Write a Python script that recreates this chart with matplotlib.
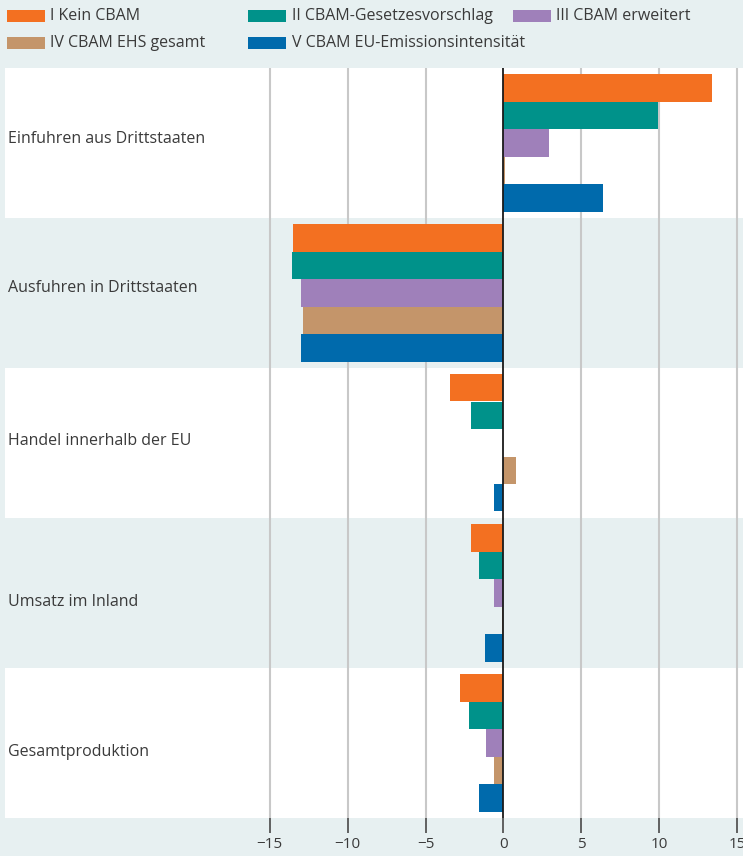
import matplotlib
matplotlib.use('Agg')
import matplotlib.pyplot as plt
from matplotlib.patches import Rectangle
import numpy as np

plt.rcParams['font.family'] = ['Open Sans', 'DejaVu Sans']

categories = ['Einfuhren aus Drittstaaten', 'Ausfuhren in Drittstaaten',
              'Handel innerhalb der EU', 'Umsatz im Inland', 'Gesamtproduktion']
series = ['I Kein CBAM', 'II CBAM-Gesetzesvorschlag', 'III CBAM erweitert',
          'IV CBAM EHS gesamt', 'V CBAM EU-Emissionsintensität']
colors = ['#f37021', '#00928a', '#9f80ba', '#c4956a', '#006aac']

# rows: categories, cols: scenarios I..V (percent change)
values = np.array([
    [13.4, 9.9, 2.9, 0.1, 6.4],
    [-13.5, -13.6, -13.0, -12.9, -13.0],
    [-3.4, -2.1, 0.0, 0.8, -0.6],
    [-2.1, -1.6, -0.6, -0.1, -1.2],
    [-2.8, -2.2, -1.1, -0.6, -1.6],
])
xticks = [-15, -10, -5, 0, 5, 10, 15]

bg = '#e7f0f1'
txt = '#3a3a3a'

fig = plt.figure(figsize=(7.43, 8.56), dpi=100, facecolor=bg)
ax = fig.add_axes([5 / 743, 38 / 856, 738 / 743, 750 / 856])
ax.set_facecolor(bg)

xmin, xmax = -32.0, 15.38
ax.set_xlim(xmin, xmax)
ax.set_ylim(len(categories), 0)

# alternating row bands
for i in range(len(categories)):
    if i % 2 == 0:
        ax.axhspan(i, i + 1, color='white', zorder=0, lw=0)

for x in xticks:
    if x != 0:
        ax.axvline(x, color='#c8c8c8', lw=1.5, zorder=1)

bh = 27.5 / 150
off = 6 / 150
label_dy = [71, 70, 73, 84, 84]  # label centre below row top, px
for i, cat in enumerate(categories):
    for j in range(len(series)):
        ax.barh(i + off + j * bh + bh / 2, values[i, j], height=bh,
                color=colors[j], lw=0, zorder=2)
    ax.text(xmin + 0.2, i + label_dy[i] / 150, cat, fontsize=11.5, color=txt,
            va='center', ha='left', zorder=3)

ax.axvline(0, color='#1a1a1a', lw=1.3, zorder=4)

for s in ax.spines.values():
    s.set_visible(False)
ax.set_yticks([])
ax.set_xticks(xticks)
ax.set_xticklabels(['\u2212' + str(-x) if x < 0 else str(x) for x in xticks])
ax.tick_params(axis='x', length=11, width=1.3, color='#555555',
               labelsize=11, labelcolor=txt, pad=3)
ax.get_xticklines()[6].set_color('#1a1a1a')

# legend
leg_pos = [(7, 16), (248, 16), (513, 16), (7, 43), (248, 43)]
for (px, py), name, c in zip(leg_pos, series, colors):
    fig.patches.append(Rectangle((px / 743, 1 - (py + 6) / 856), 38 / 743, 12 / 856,
                                 transform=fig.transFigure, color=c, lw=0))
    fig.text((px + 43.5) / 743, 1 - py / 856, name, fontsize=11.5, color=txt,
             va='center', ha='left')

fig.savefig('out.png', dpi=100, facecolor=bg)
